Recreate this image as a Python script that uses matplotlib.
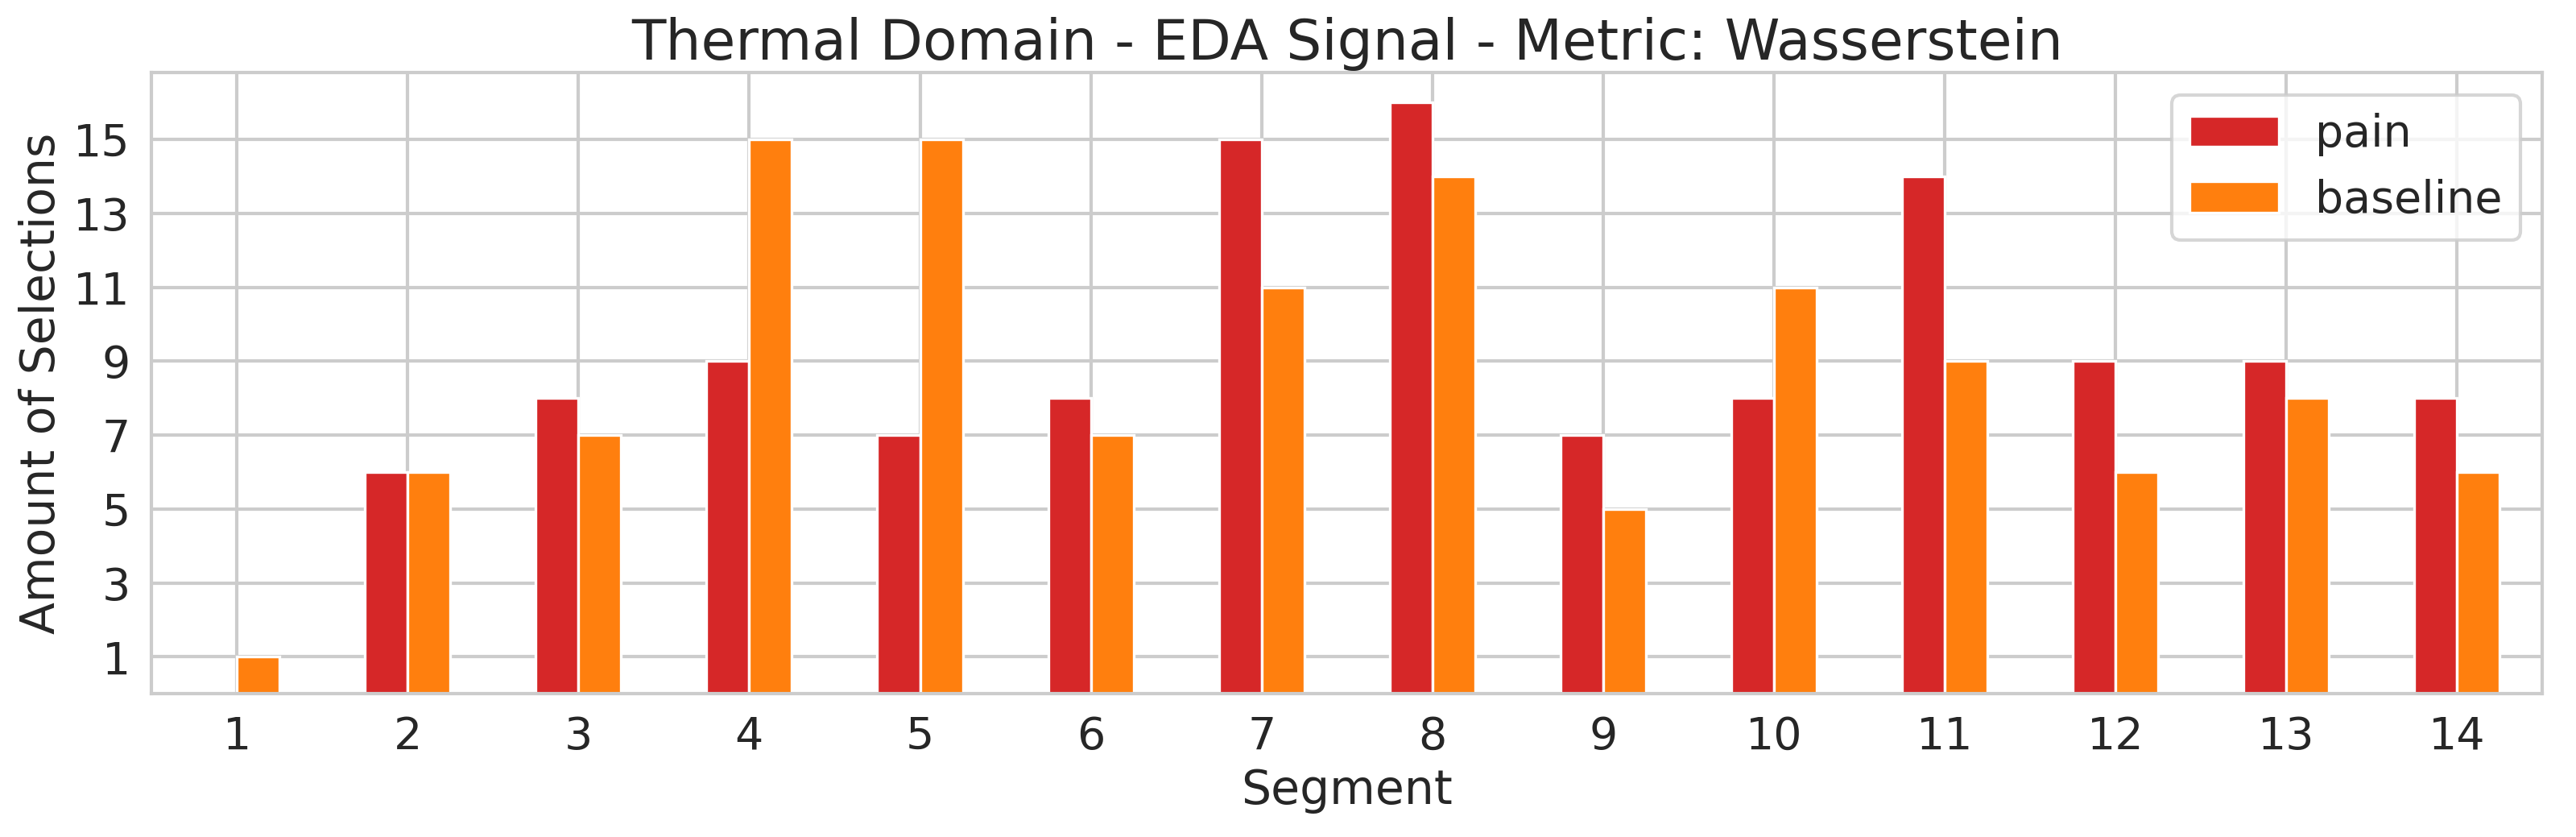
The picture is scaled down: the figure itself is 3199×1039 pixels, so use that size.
import numpy as np
import matplotlib
matplotlib.use("Agg")
import matplotlib.pyplot as plt
import seaborn as sns

segments = list(range(1, 15))
pain = [0, 6, 8, 9, 7, 8, 15, 16, 7, 8, 14, 9, 9, 8]
baseline = [1, 6, 7, 15, 15, 7, 11, 14, 5, 11, 9, 6, 8, 6]
yticks = [1, 3, 5, 7, 9, 11, 13, 15]

sns.set_theme(style="whitegrid")
plt.rcParams['font.family'] = ['DejaVu Sans']
plt.rcParams['grid.linewidth'] = 1.5
plt.rcParams['axes.linewidth'] = 1.5

fig, ax = plt.subplots(figsize=(15.995, 5.195), dpi=200)
fig.subplots_adjust(left=0.0588, right=0.987, top=0.913, bottom=0.171)

x = np.array(segments)
w = 0.25
ax.bar(x - w / 2, pain, width=w, color="#d62728", edgecolor="white", linewidth=1.2, label="pain")
ax.bar(x + w / 2, baseline, width=w, color="#ff7f0e", edgecolor="white", linewidth=1.2, label="baseline")

ax.set_xticks(segments)
ax.set_xticklabels([str(s) for s in segments], fontsize=20)
ax.set_yticks(yticks)
ax.set_yticklabels([str(t) for t in yticks], fontsize=20)
ax.set_xlim(0.5, 14.5)
ax.set_ylim(0, 16.8)

ax.set_xlabel("Segment", fontsize=21)
ax.set_ylabel("Amount of Selections", fontsize=21)
ax.set_title("Thermal Domain - EDA Signal - Metric: Wasserstein", fontsize=25)
leg = ax.legend(loc="upper right", fontsize=20)
leg.get_frame().set_linewidth(1.5)

fig.savefig("out.png", dpi=200)
